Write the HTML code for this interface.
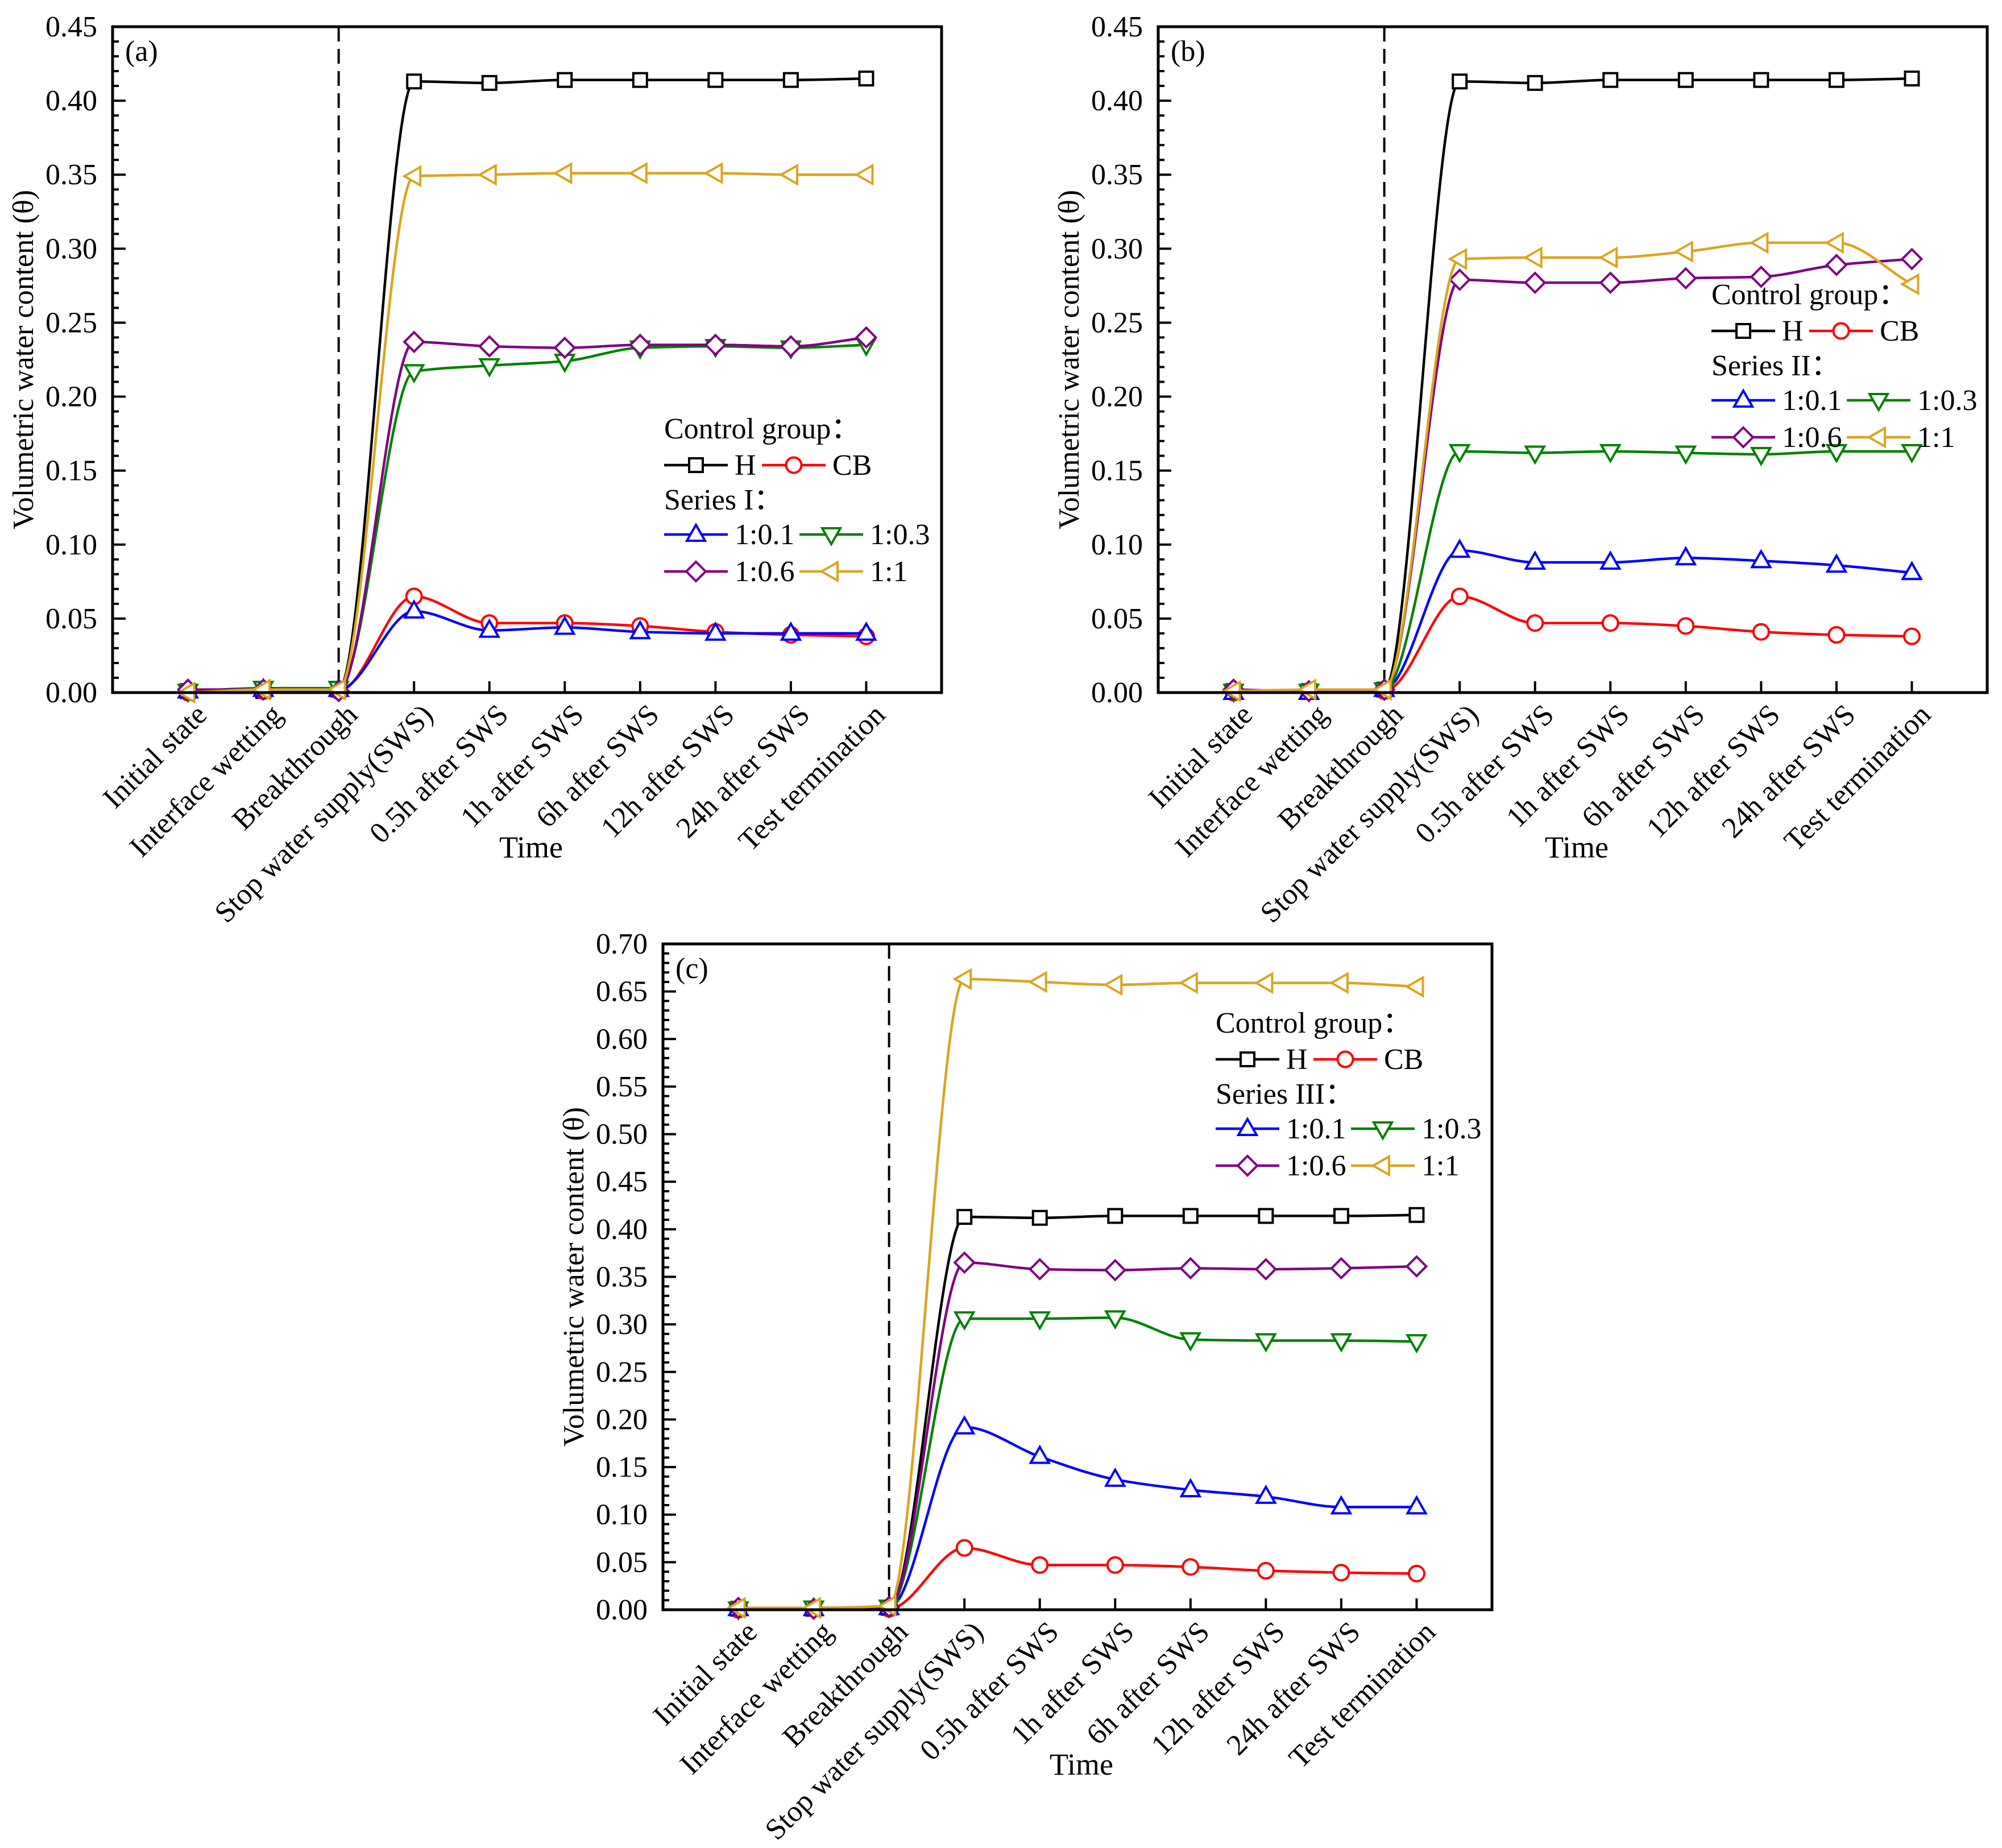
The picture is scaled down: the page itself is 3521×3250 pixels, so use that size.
<!DOCTYPE html>
<html><head><meta charset="utf-8"><style>
html,body{margin:0;padding:0;background:#fff}
svg{display:block}
text{font-family:"Liberation Serif","Times New Roman",serif;fill:#000}
</style></head><body>
<svg id="fig" width="3521" height="3250" viewBox="0 0 3521 3250" xmlns="http://www.w3.org/2000/svg"></svg>
<script>
const categories=["Initial state","Interface wetting","Breakthrough","Stop water supply(SWS)","0.5h after SWS","1h after SWS","6h after SWS","12h after SWS","24h after SWS","Test termination"];
const seriesNames=["H","CB","1:0.1","1:0.3","1:0.6","1:1"];
const hValues=[0.001,0.001,0.002,0.413,0.412,0.414,0.414,0.414,0.414,0.415];
const cbValues=[0.000,0.001,0.001,0.065,0.047,0.047,0.045,0.041,0.039,0.038];
const aV01=[0.001,0.002,0.002,0.055,0.042,0.044,0.041,0.040,0.040,0.040];
const aV03=[0.001,0.003,0.003,0.217,0.221,0.224,0.233,0.234,0.233,0.235];
const aV06=[0.002,0.002,0.001,0.237,0.234,0.233,0.235,0.235,0.234,0.240];
const aV1=[0.000,0.002,0.002,0.349,0.350,0.351,0.351,0.351,0.350,0.350];
const bV01=[0.000,0.000,0.002,0.096,0.088,0.088,0.091,0.089,0.086,0.081];
const bV03=[0.001,0.001,0.002,0.163,0.162,0.163,0.162,0.161,0.163,0.163];
const bV06=[0.002,0.001,0.002,0.279,0.277,0.277,0.280,0.281,0.289,0.293];
const bV1=[0.001,0.002,0.002,0.293,0.294,0.294,0.298,0.304,0.304,0.276];
const cV01=[0.001,0.001,0.002,0.192,0.161,0.137,0.126,0.119,0.108,0.108];
const cV03=[0.001,0.002,0.003,0.306,0.306,0.307,0.284,0.283,0.283,0.282];
const cV06=[0.002,0.001,0.003,0.365,0.358,0.357,0.359,0.358,0.359,0.361];
const cV1=[0.002,0.002,0.004,0.663,0.660,0.657,0.659,0.659,0.659,0.655];
const yMaxAB=0.45;
const yMaxC=0.70;

const NS="http://www.w3.org/2000/svg";
const svg=document.getElementById('fig');
function mk(tag,attrs,parent){const e=document.createElementNS(NS,tag);for(const k in attrs)e.setAttribute(k,attrs[k]);(parent||svg).appendChild(e);return e;}
const colors=["#000000","#ff0000","#0000ff","#008000","#800080","#daa520"];
const shapes=["square","circle","up","down","diamond","left"];
const FS=52;
const LW=4.5;

function marker(g,shape,x,y,color){
  let e;
  const s=12;
  if(shape==="square") e=mk('rect',{x:x-s,y:y-s,width:2*s,height:2*s},g);
  else if(shape==="circle") e=mk('circle',{cx:x,cy:y,r:13.5},g);
  else {
    let pts;
    if(shape==="up") pts=[[x,y-17],[x+16,y+11],[x-16,y+11]];
    else if(shape==="down") pts=[[x,y+17],[x+16,y-11],[x-16,y-11]];
    else if(shape==="diamond") pts=[[x,y-17],[x+17,y],[x,y+17],[x-17,y]];
    else pts=[[x-17,y],[x+11,y-16],[x+11,y+16]];
    e=mk('polygon',{points:pts.map(p=>p.join(',')).join(' ')},g);
  }
  e.setAttribute('fill','#fff');e.setAttribute('stroke',color);e.setAttribute('stroke-width','4');
  return e;
}

// monotone cubic (Fritsch-Carlson)
function spline(pts){
  const n=pts.length,dx=[],m=[],t=[];
  for(let i=0;i<n-1;i++){dx.push(pts[i+1][0]-pts[i][0]);m.push((pts[i+1][1]-pts[i][1])/dx[i]);}
  t[0]=m[0];t[n-1]=m[n-2];
  for(let i=1;i<n-1;i++){
    if(m[i-1]*m[i]<=0) t[i]=0;
    else t[i]=3*(dx[i-1]+dx[i])/((2*dx[i]+dx[i-1])/m[i-1]+(dx[i]+2*dx[i-1])/m[i]);
  }
  let d=`M${pts[0][0]},${pts[0][1]}`;
  for(let i=0;i<n-1;i++){
    const h=dx[i]/3;
    d+=` C${pts[i][0]+h},${pts[i][1]+t[i]*h} ${pts[i+1][0]-h},${pts[i+1][1]-t[i+1]*h} ${pts[i+1][0]},${pts[i+1][1]}`;
  }
  return d;
}

function panel(id,left,top,yMax,data,label,legendX,legendY,seriesLabel){
  const W=1458,H=1171,bottom=top+H;
  const g=mk('g',{});
  
  
  const xs=i=>left+(i+1)*W/11;
  const ys=v=>bottom-v/yMax*H;
  const cp=mk('clipPath',{id:'clip'+id},g);
  mk('rect',{x:left,y:top,width:W,height:H},cp);
  const nMinor=Math.round(yMax/0.01);
  for(let k=0;k<=nMinor;k++){
    const v=k*0.01,y=ys(v),major=k%5===0;
    mk('line',{x1:left,x2:left+(major?23:11),y1:y,y2:y,stroke:'#000','stroke-width':4},g);
    if(major){
      const t=mk('text',{x:left-27,y:y+17,'text-anchor':'end','font-size':FS},g);
      t.textContent=v.toFixed(2);
      
      
    }
  }
  categories.forEach((c,i)=>{
    const x=xs(i);
    mk('line',{x1:x,x2:x,y1:bottom,y2:bottom-20,stroke:'#000','stroke-width':4},g);
    const ax=x+36,ay=bottom+42;
    const t=mk('text',{x:ax,y:ay,'text-anchor':'end','font-size':FS,transform:`rotate(-45 ${ax} ${ay})`},g);
    t.textContent=c;
    
    
  });
  const dl=mk('line',{x1:xs(2),x2:xs(2),y1:top,y2:bottom,stroke:'#000','stroke-width':4,'stroke-dasharray':'26 13'},g);
  
  
  data.forEach((vals,si)=>{
    const sg=mk('g',{},g);
    
    
    const pts=vals.map((v,i)=>[xs(i),ys(v)]);
    const p=mk('path',{d:spline(pts),fill:'none',stroke:colors[si],'stroke-width':LW,'clip-path':`url(#clip${id})`},sg);
    
    
    pts.forEach(pt=>{
      const m=marker(sg,shapes[si],pt[0],pt[1],colors[si]);
      
      
    });
  });
  mk('rect',{x:left,y:top,width:W,height:H,fill:'none',stroke:'#000','stroke-width':5},g);
  const pl=mk('text',{x:left+22,y:top+60,'font-size':FS},g);
  pl.textContent=label;
  
  
  const xt=mk('text',{x:left+736,y:bottom+290,'text-anchor':'middle','font-size':FS+2},g);
  xt.textContent='Time';
  
  
  const yx=left-140,yy=top+H/2;
  const yt=mk('text',{x:yx,y:yy,'text-anchor':'middle','font-size':FS,transform:`rotate(-90 ${yx} ${yy})`},g);
  yt.textContent='Volumetric water content (θ)';
  
  
  const lg=mk('g',{},g);
  
  
  const L=legendX,Y=legendY;
  const t1=mk('text',{x:L,y:Y,'font-size':FS},lg);t1.textContent='Control group：';
  function entry(x,yc,si,name){
    const eg=mk('g',{},lg);
    
    
    mk('line',{x1:x,x2:x+112,y1:yc,y2:yc,stroke:colors[si],'stroke-width':LW},eg);
    marker(eg,shapes[si],x+56,yc,colors[si]);
    const t=mk('text',{x:x+124,y:yc+17,'font-size':FS},eg);t.textContent=name;
  }
  entry(L,Y+47,0,'H');
  entry(L+172,Y+47,1,'CB');
  const t2=mk('text',{x:L,y:Y+125,'font-size':FS},lg);t2.textContent=seriesLabel;
  entry(L,Y+169,2,'1:0.1');
  entry(L+238,Y+169,3,'1:0.3');
  entry(L,Y+234,4,'1:0.6');
  entry(L+238,Y+234,5,'1:1');
}
panel('a',198,47,yMaxAB,[hValues,cbValues,aV01,aV03,aV06,aV1],'(a)',1168,771,'Series I：');
panel('b',2037,47,yMaxAB,[hValues,cbValues,bV01,bV03,bV06,bV1],'(b)',3010,535,'Series II：');
panel('c',1166,1660,yMaxC,[hValues,cbValues,cV01,cV03,cV06,cV1],'(c)',2138,1816,'Series III：');
</script>
</body></html>
